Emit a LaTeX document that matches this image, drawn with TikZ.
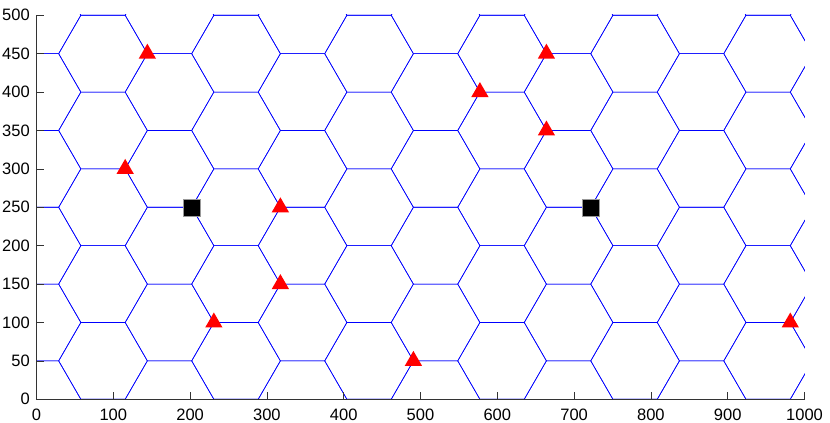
\documentclass[tikz,border=0pt]{standalone}
\usepackage{fontspec}
\setmainfont{Liberation Sans}
\usetikzlibrary{shapes.geometric}
\begin{document}
\begin{tikzpicture}[x=0.768pt,y=0.768pt,
  hexline/.style={blue, line width=0.6pt},
  axisline/.style={black!80, line width=0.6pt},
  tri/.style={regular polygon, regular polygon sides=3, fill=red, inner sep=0pt, minimum size=20pt},
  sq/.style={rectangle, fill=black, draw=black!40, line width=0.5pt, inner sep=0pt, minimum size=17pt},
  ticklab/.style={font=\fontsize{16.5}{18}\selectfont, inner sep=0pt}]
\useasboundingbox (-47.53,-30.86) rectangle (1033.2,519.9);
% hexagonal grid
\begin{scope}
\clip (-0.5,-0.5) rectangle (1000.5,500.5);
\foreach \m in {0,...,12}{
  \pgfmathsetmacro{\cx}{86.6025*\m}
  \pgfmathsetmacro{\oy}{50*mod(\m,2)}
  \foreach \n in {-1,...,5}{
    \draw[hexline] ({\cx+57.735},{\oy+100*\n}) -- ++(120:57.735) -- ++(180:57.735)
      -- ++(240:57.735) -- ++(300:57.735) -- ++(0:57.735) -- cycle;
  }
}
\end{scope}
% axes
\draw[axisline] (0,500) -- (0,0) -- (1000,0);
\foreach \x in {0,100,...,1000}{
  \draw[axisline] (\x,0) -- (\x,9.8);
  \node[ticklab, anchor=base] (xl\x) at (\x,-27.9) {\x};
}
\foreach \y in {0,50,...,500}{
  \draw[axisline] (0,\y) -- (9.8,\y);
  \node[ticklab, anchor=east] (yl\y) at (-8.5,\y) {\y};
}
% markers
\node[tri] (t1) at (144.34,450) {};
\node[tri] (t2) at (115.47,300) {};
\node[tri] (t3) at (317.54,250) {};
\node[tri] (t4) at (317.54,150) {};
\node[tri] (t5) at (230.94,100) {};
\node[tri] (t6) at (490.75,50) {};
\node[tri] (t7) at (577.35,400) {};
\node[tri] (t8) at (663.95,450) {};
\node[tri] (t9) at (663.95,350) {};
\node[tri] (t10) at (981.50,100) {};
\node[sq] (s1) at (202.07,250) {};
\node[sq] (s2) at (721.69,250) {};
\end{tikzpicture}
\end{document}
